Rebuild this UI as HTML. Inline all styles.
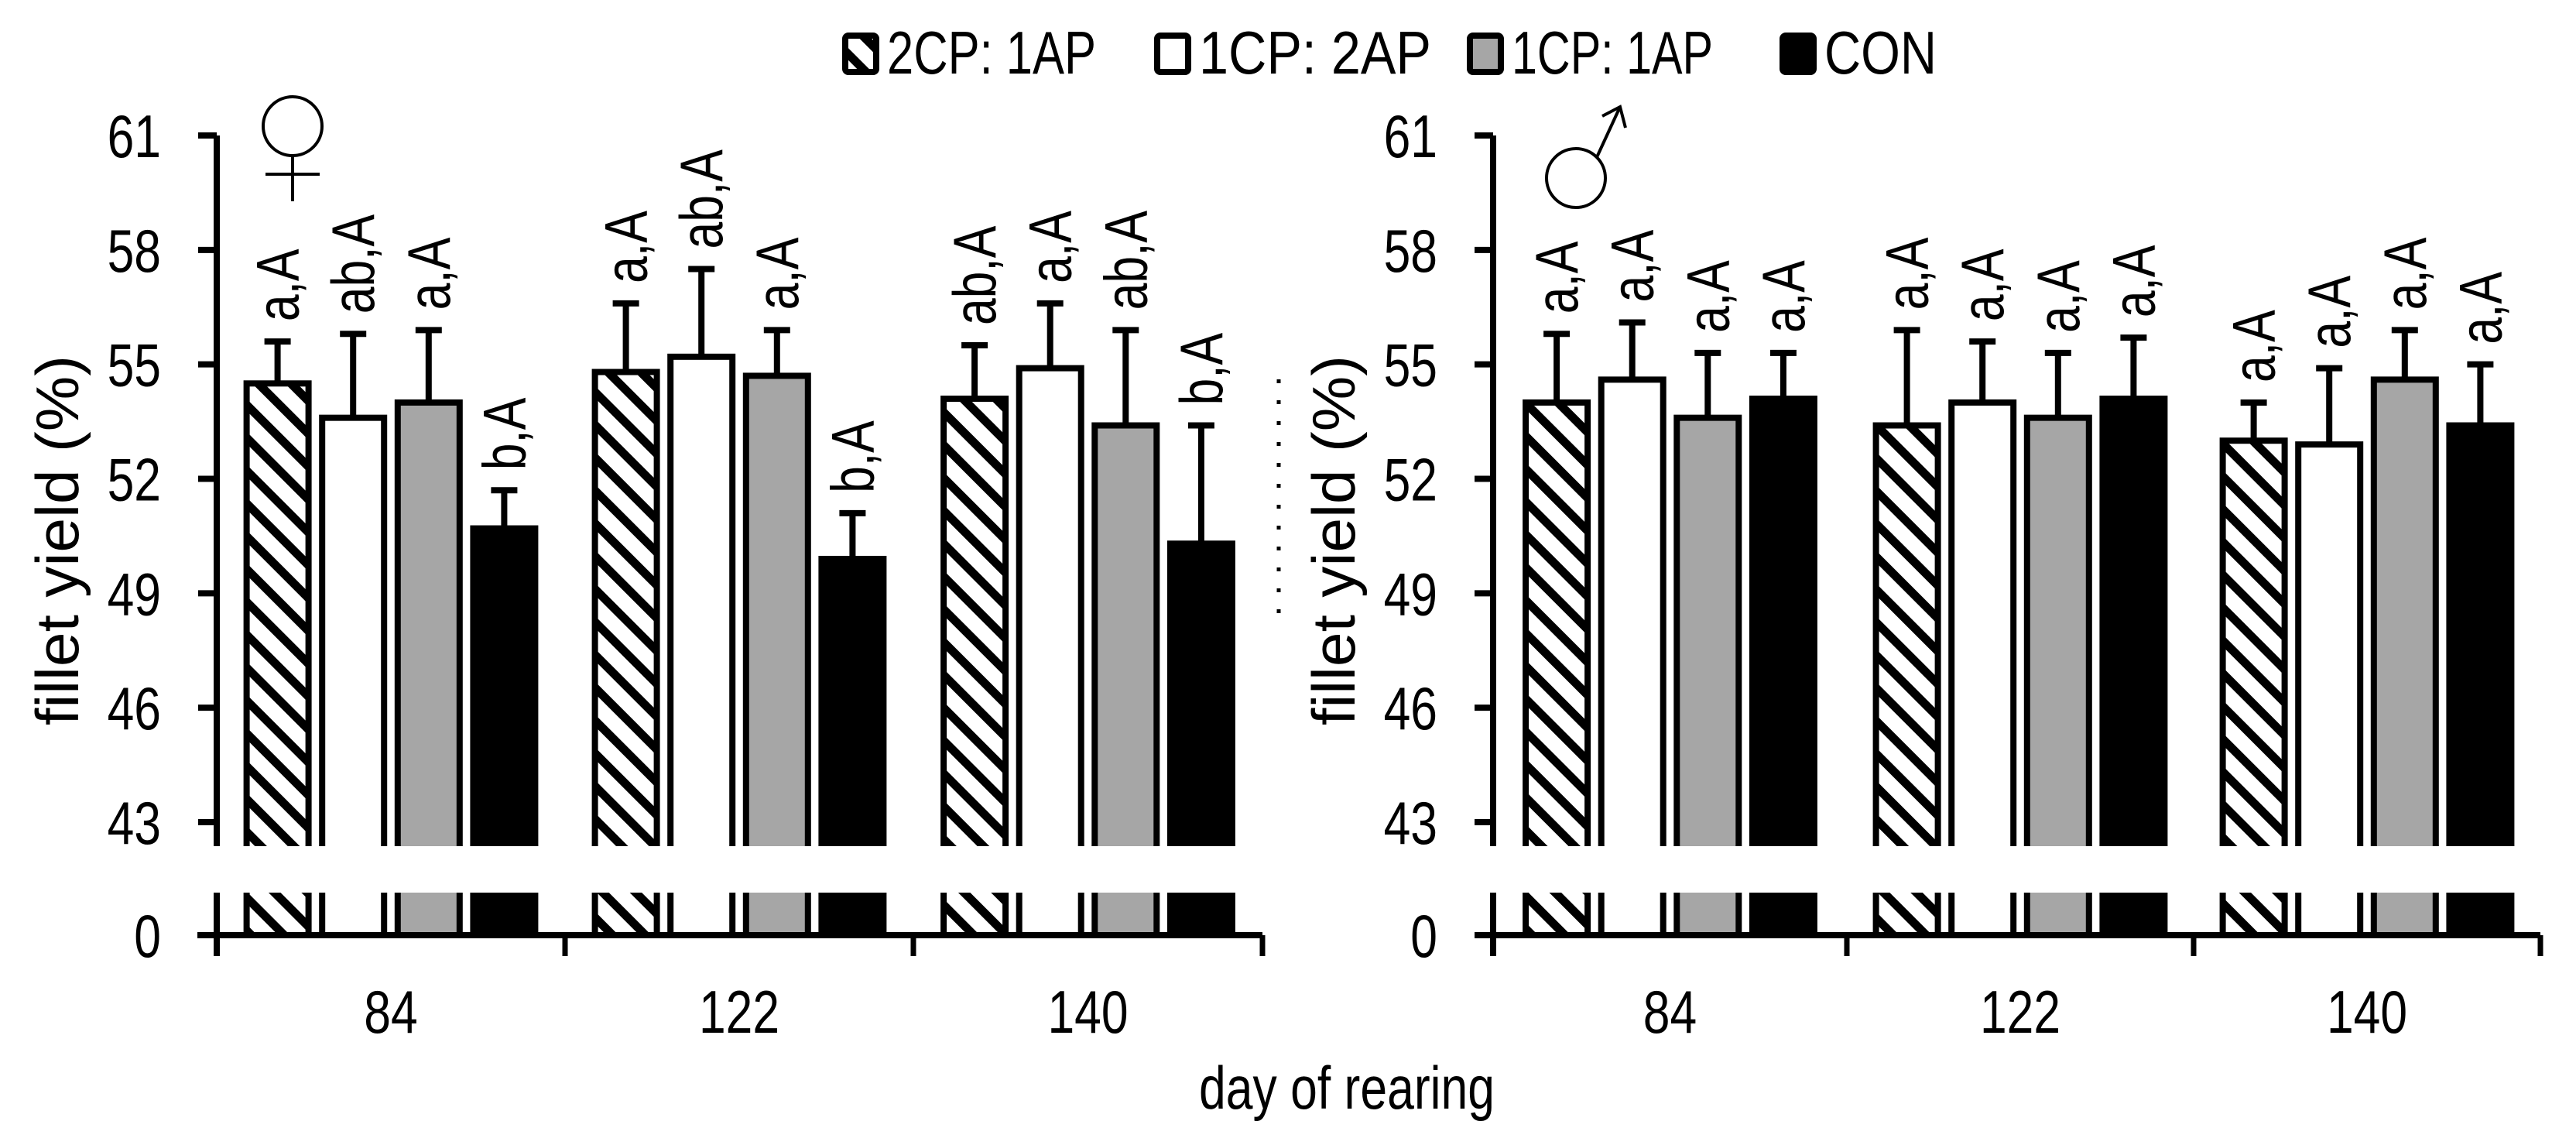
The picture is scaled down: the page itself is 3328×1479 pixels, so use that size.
<!DOCTYPE html>
<html><head><meta charset="utf-8"><style>
html,body{margin:0;padding:0;background:#fff;}
svg{display:block;}
text{font-family:"Liberation Sans Narrow","Liberation Sans",sans-serif;fill:#000;}
</style></head>
<body>
<svg id="chart" width="3328" height="1479" viewBox="0 0 3328 1479" xmlns="http://www.w3.org/2000/svg">
<defs>
<pattern id="hatch" patternUnits="userSpaceOnUse" width="30" height="30" patternTransform="rotate(-45)">
<rect width="30" height="30" fill="#fff"/>
<rect x="0" y="0" width="11" height="30" fill="#000"/>
</pattern>
</defs>
<g id="legend"></g>
<g id="plots"></g>
</svg>
<script>
const days = ["84","122","140"];
const series = ["2CP: 1AP","1CP: 2AP","1CP: 1AP","CON"];
const yTicks = [43,46,49,52,55,58,61];
const femaleMeans = [[54.5,53.6,54.0,50.7],[54.8,55.2,54.7,49.9],[54.1,54.9,53.4,50.3]];
const femaleErrTops = [[55.6,55.8,55.9,51.7],[56.6,57.5,55.9,51.1],[55.5,56.6,55.9,53.4]];
const femaleLabels = [["a,A","ab,A","a,A","b,A"],["a,A","ab,A","a,A","b,A"],["ab,A","a,A","ab,A","b,A"]];
const maleMeans = [[54.0,54.6,53.6,54.1],[53.4,54.0,53.6,54.1],[53.0,52.9,54.6,53.4]];
const maleErrTops = [[55.8,56.1,55.3,55.3],[55.9,55.6,55.3,55.7],[54.0,54.9,55.9,55.0]];
const maleLabels = [["a,A","a,A","a,A","a,A"],["a,A","a,A","a,A","a,A"],["a,A","a,A","a,A","a,A"]];

const NS="http://www.w3.org/2000/svg";
const fills=["url(#hatch)","#fff","#a6a6a6","#000"];
const SX=0.8;
function mk(tag,attrs,parent){const e=document.createElementNS(NS,tag);for(const k in attrs)e.setAttribute(k,attrs[k]);parent.appendChild(e);return e;}
const Y61=175,Y43=1062,YBREAK=1093,YRES=1153,Y0=1208;
function yScale(v){return Y43-(v-43)*(Y43-Y61)/18;}
function txt(parent,s,x,y,anchor,size){
  const t=mk('text',{x:0,y:0,'font-size':size||78,'text-anchor':anchor||'start',transform:`translate(${x},${y}) scale(${SX},1)`},parent);
  t.textContent=s;return t;
}

function drawPanel(name,axisX,xStart,xEnd,dividers,means,errs,labels,titleX){
  const svg=document.getElementById('plots');
  const g=mk('g',{},svg);
  
  
  for(let d=0;d<days.length;d++){
    const gx0=dividers[d],gx1=dividers[d+1];
    const pitch=97.6,bw=80;
    const start=(gx0+gx1)/2-(3*pitch+bw)/2;
    for(let s=0;s<series.length;s++){
      const x=start+s*pitch;
      const top=yScale(means[d][s]);
      const et=yScale(errs[d][s]);
      const cx=x+bw/2;
      const eb=mk('line',{x1:cx,x2:cx,y1:top,y2:et,stroke:'#000','stroke-width':8},g);
      
      
      mk('line',{x1:cx-17,x2:cx+17,y1:et,y2:et,stroke:'#000','stroke-width':8},g);
      const r1=mk('rect',{x:x,y:top,width:bw,height:YBREAK+10-top,fill:fills[s],stroke:'#000','stroke-width':8},g);
      
      
      mk('rect',{x:x-6,y:YBREAK,width:bw+12,height:YRES-YBREAK,fill:'#fff'},g);
      const r2=mk('rect',{x:x,y:YRES,width:bw,height:Y0-YRES,fill:fills[s]},g);
      
      
      mk('line',{x1:x,x2:x,y1:YRES,y2:Y0,stroke:'#000','stroke-width':8},g);
      mk('line',{x1:x+bw,x2:x+bw,y1:YRES,y2:Y0,stroke:'#000','stroke-width':8},g);
      const t=mk('text',{x:0,y:0,'font-size':78,transform:`translate(${cx+27},${et-26}) rotate(-90) scale(${SX},1)`},g);
      t.textContent=labels[d][s];
      
      
    }
  }
  mk('line',{x1:axisX,x2:axisX,y1:Y61,y2:YBREAK,stroke:'#000','stroke-width':8},g);
  mk('line',{x1:axisX,x2:axisX,y1:YRES,y2:Y0+27,stroke:'#000','stroke-width':8},g);
  const xa=mk('line',{x1:xStart,x2:xEnd,y1:Y0,y2:Y0,stroke:'#000','stroke-width':8},g);
  
  
  for(const dv of dividers){mk('line',{x1:dv,x2:dv,y1:Y0,y2:Y0+27,stroke:'#000','stroke-width':7},g);}
  for(const v of yTicks){
    const y=yScale(v);
    mk('line',{x1:axisX-24,x2:axisX,y1:y,y2:y,stroke:'#000','stroke-width':8},g);
    const t=txt(g,String(v),axisX-72,y+28,'end');
    
    
  }
  mk('line',{x1:axisX-24,x2:axisX,y1:Y0,y2:Y0,stroke:'#000','stroke-width':8},g);
  const z=txt(g,'0',axisX-72,Y0+28,'end');
  
  
  for(let d=0;d<days.length;d++){
    const t=txt(g,days[d],(dividers[d]+dividers[d+1])/2,1334,'middle');
    
    
  }
  const yt=mk('text',{x:0,y:0,'font-size':78,'text-anchor':'middle',textLength:478,lengthAdjust:'spacingAndGlyphs',transform:`translate(${titleX+27},${698}) rotate(-90)`},g);
  yt.textContent='fillet yield (%)';
  
  
}
drawPanel('female-panel',280,255,1631,[280,730,1180,1631],femaleMeans,femaleErrTops,femaleLabels,74);
drawPanel('male-panel',1929,1908,3282,[1929,2386,2834,3282],maleMeans,maleErrTops,maleLabels,1723);

const plots=document.getElementById('plots');
const fs=mk('g',{stroke:'#000','stroke-width':4,fill:'none'},plots);


mk('circle',{cx:378,cy:163,r:38},fs);
mk('line',{x1:378,x2:378,y1:201,y2:260},fs);
mk('line',{x1:343,x2:413,y1:225,y2:225},fs);
const ms=mk('g',{stroke:'#000','stroke-width':4,fill:'none'},plots);


mk('circle',{cx:2036,cy:230,r:38},ms);
mk('line',{x1:2063,x2:2093,y1:203,y2:138},ms);
mk('polyline',{points:'2070,150 2093,138 2100,165'},ms);
const dl=mk('line',{x1:1652,x2:1652,y1:490,y2:792,stroke:'#000','stroke-width':5,'stroke-dasharray':'5 22'},plots);



const xt=mk('text',{x:1740,y:1432,'font-size':78,'text-anchor':'middle',textLength:382,lengthAdjust:'spacingAndGlyphs'},plots);
xt.textContent='day of rearing';



const lg=document.getElementById('legend');
const boxX=[1088,1491,1895,2299];
const textW=[270,300,260,145];
for(let s=0;s<series.length;s++){
  const b=mk('rect',{x:boxX[s]+4,y:46,width:40,height:47,fill:fills[s],stroke:'#000','stroke-width':8,rx:4},lg);
  
  
  const t=mk('text',{x:boxX[s]+58,y:95,'font-size':78,textLength:textW[s],lengthAdjust:'spacingAndGlyphs'},lg);
  t.textContent=series[s];
  
  
}
</script>
</body></html>
